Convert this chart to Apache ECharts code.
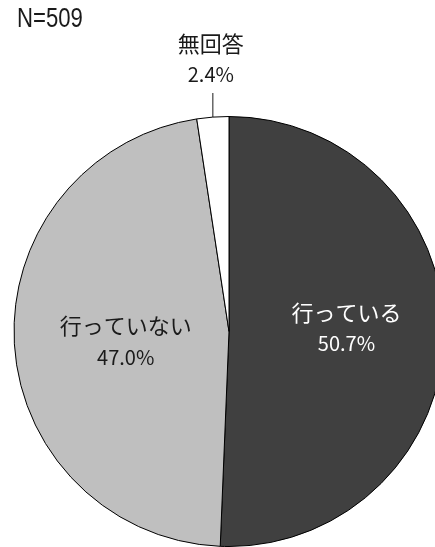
<!DOCTYPE html>
<html>
<head>
<meta charset="utf-8">
<script src="https://cdn.jsdelivr.net/npm/echarts@6/dist/echarts.min.js"></script>
<style>
  html, body { margin: 0; padding: 0; background: #fff; }
  #chart { width: 435px; height: 547px; }
</style>
</head>
<body>
<div id="chart"></div>
<script>
// Survey result: share of respondents (N=509)
const sampleLabel = 'N=509';
const categories = ['行っている', '行っていない', '無回答'];
const shares = [50.7, 47.0, 2.4];
const sliceColors = ['#404040', '#bfbfbf', '#ffffff'];
const labelColors = ['#ffffff', '#1a1a1a', '#1a1a1a'];

const jpFont = '"Noto Sans CJK JP", "Noto Sans", sans-serif';

// nudges for the two labels drawn inside their slices
const insideOffsets = [[7, -6], [7, 4]];

const pieData = categories.map((name, i) => ({
  name,
  value: shares[i],
  itemStyle: { color: sliceColors[i] },
  label: i < 2
    ? { position: 'inside', offset: insideOffsets[i] }
    : { position: 'outside' },
  labelLine: { show: i === 2 }
}));

function richFor(color) {
  return {
    n: { fontFamily: jpFont, fontSize: 22, lineHeight: 31, color },
    p: { fontFamily: jpFont, fontSize: 20, lineHeight: 31, color }
  };
}
pieData.forEach((d, i) => { d.label.rich = richFor(labelColors[i]); });

const chart = echarts.init(document.getElementById('chart'), null, { renderer: 'canvas' });

chart.setOption({
  animation: false,
  graphic: [{
    type: 'text',
    left: 17,
    top: 6,
    scaleX: 0.82,
    style: {
      text: sampleLabel,
      font: 'normal 27px "Liberation Sans", Arial, sans-serif',
      fill: '#1a1a1a'
    }
  }],
  series: [{
    type: 'pie',
    center: [229, 331.5],
    radius: 215,
    startAngle: 90,
    clockwise: true,
    avoidLabelOverlap: false,
    itemStyle: { borderColor: '#000', borderWidth: 1 },
    label: {
      show: true,
      formatter: p => '{n|' + p.name + '}\n{p|' + p.value.toFixed(1) + '%}',
      align: 'center'
    },
    labelLine: {
      show: true,
      length: 24,
      length2: 0,
      lineStyle: { color: '#404040', width: 1.2 }
    },
    labelLayout: function (params) {
      if (params.dataIndex !== 2) return {};
      const p0 = params.labelLinePoints[0];
      const top = p0[1] - 24;
      return {
        x: p0[0] - 2,
        y: top - 3,
        align: 'center',
        verticalAlign: 'bottom',
        labelLinePoints: [[p0[0], p0[1]], [p0[0], top], [p0[0], top]]
      };
    },
    data: pieData
  }]
});
</script>
</body>
</html>
